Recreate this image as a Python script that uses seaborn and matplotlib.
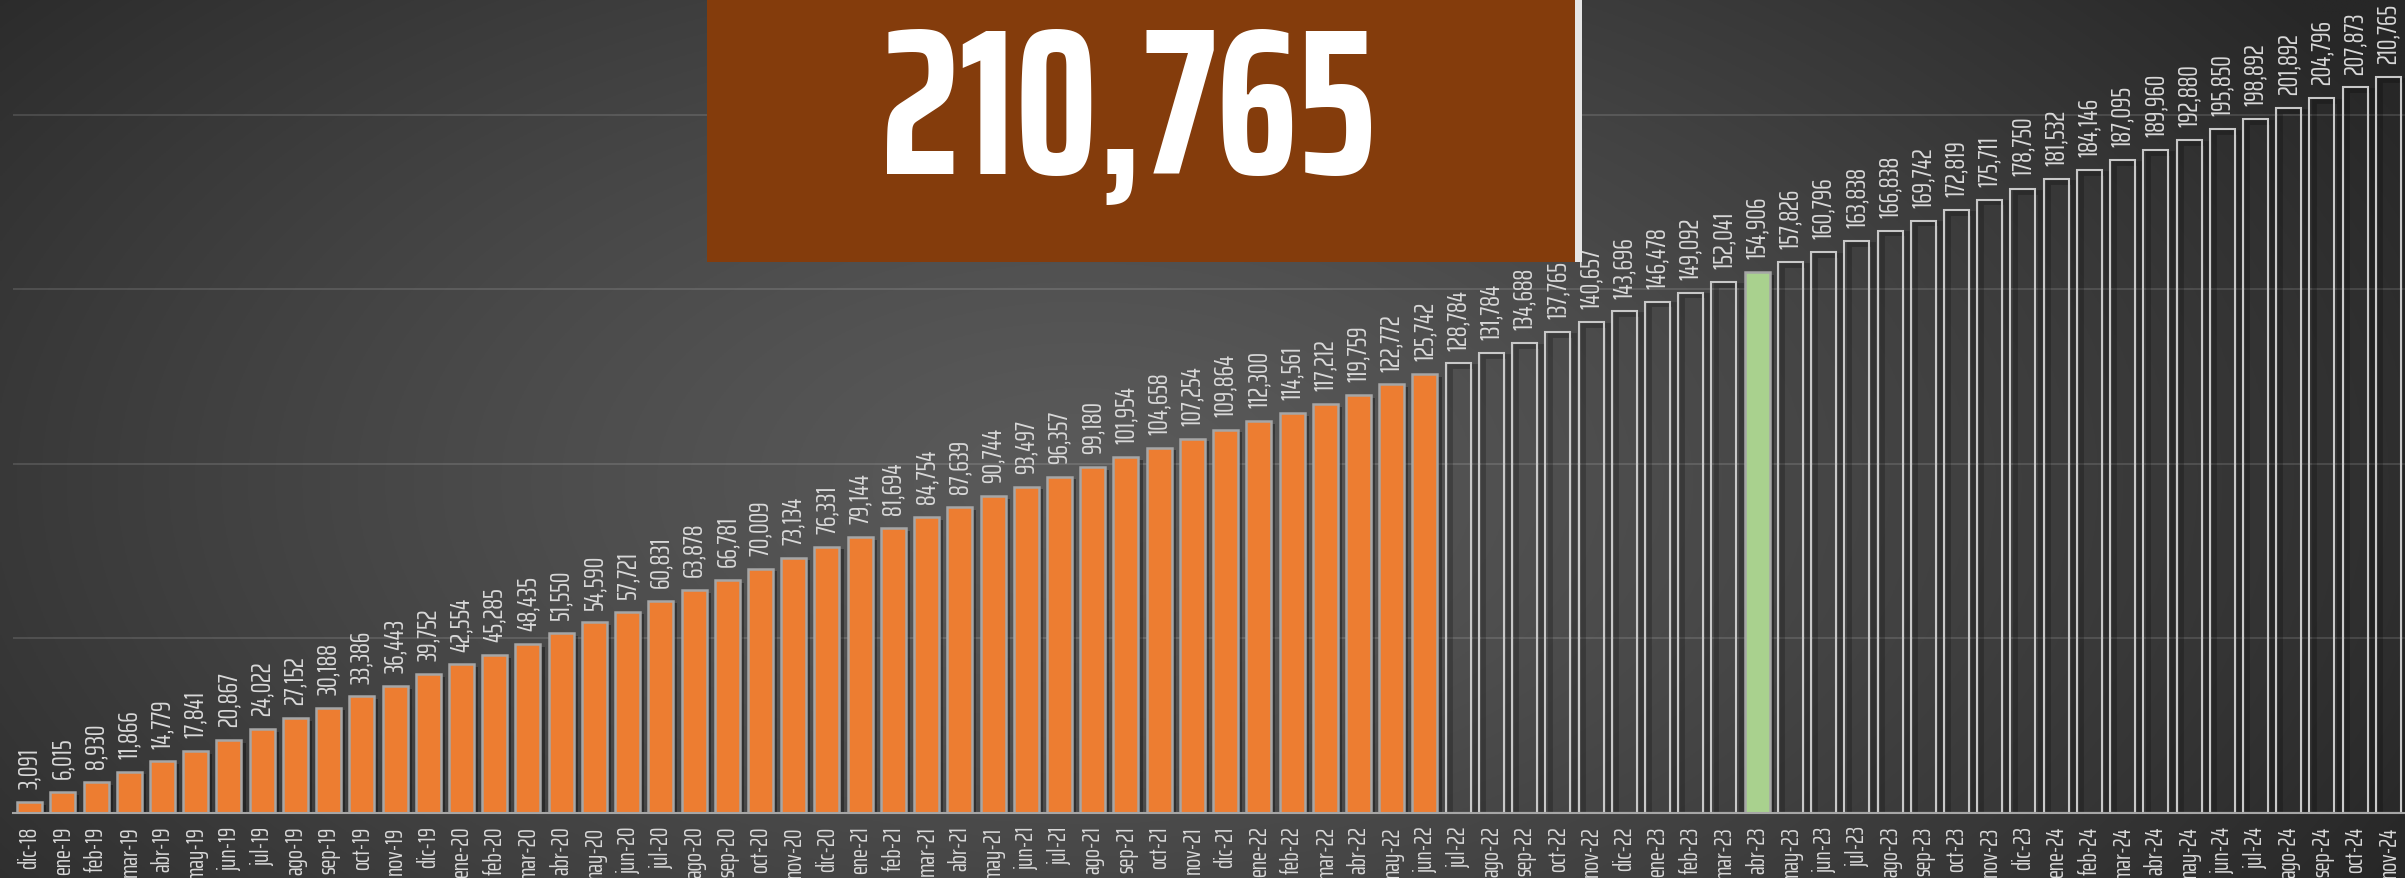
import numpy as np
import pandas as pd
import matplotlib
matplotlib.use('Agg')
import matplotlib.pyplot as plt
import matplotlib.patheffects as pe
from matplotlib.patches import Rectangle
from matplotlib import font_manager
from matplotlib.font_manager import FontProperties
from matplotlib.textpath import TextPath
import seaborn as sns

meses = ['dic-18',
         'ene-19', 'feb-19', 'mar-19', 'abr-19', 'may-19', 'jun-19', 'jul-19', 'ago-19', 'sep-19', 'oct-19', 'nov-19', 'dic-19',
         'ene-20', 'feb-20', 'mar-20', 'abr-20', 'may-20', 'jun-20', 'jul-20', 'ago-20', 'sep-20', 'oct-20', 'nov-20', 'dic-20',
         'ene-21', 'feb-21', 'mar-21', 'abr-21', 'may-21', 'jun-21', 'jul-21', 'ago-21', 'sep-21', 'oct-21', 'nov-21', 'dic-21',
         'ene-22', 'feb-22', 'mar-22', 'abr-22', 'may-22', 'jun-22', 'jul-22', 'ago-22', 'sep-22', 'oct-22', 'nov-22', 'dic-22',
         'ene-23', 'feb-23', 'mar-23', 'abr-23', 'may-23', 'jun-23', 'jul-23', 'ago-23', 'sep-23', 'oct-23', 'nov-23', 'dic-23',
         'ene-24', 'feb-24', 'mar-24', 'abr-24', 'may-24', 'jun-24', 'jul-24', 'ago-24', 'sep-24', 'oct-24', 'nov-24']

valores = [3091,
           6015, 8930, 11866, 14779, 17841, 20867, 24022, 27152, 30188, 33386, 36443, 39752,
           42554, 45285, 48435, 51550, 54590, 57721, 60831, 63878, 66781, 70009, 73134, 76331,
           79144, 81694, 84754, 87639, 90744, 93497, 96357, 99180, 101954, 104658, 107254, 109864,
           112300, 114561, 117212, 119759, 122772, 125742, 128784, 131784, 134688, 137765, 140657, 143696,
           146478, 149092, 152041, 154906, 157826, 160796, 163838, 166838, 169742, 172819, 175711, 178750,
           181532, 184146, 187095, 189960, 192880, 195850, 198892, 201892, 204796, 207873, 210765]

# real = barras llenas, proy = solo contorno, actual = barra verde
estado = ['real'] * 43 + ['proy'] * 9 + ['actual'] + ['proy'] * 19

total = '210,765'

colores_estado = {'real': '#ED7D31', 'proy': '#4A4A4A', 'actual': '#A9D18E'}

df = pd.DataFrame({'mes': meses, 'valor': valores, 'estado': estado})

sns.set_style('dark')

# fuente estrecha parecida a la del original
disponibles = {f.name for f in font_manager.fontManager.ttflist}
fuente = 'DejaVu Sans'
for nombre in ['Saira Extra Condensed', 'Saira ExtraCondensed', 'Barlow Condensed',
               'Archivo Narrow', 'Liberation Sans Narrow']:
    if nombre in disponibles:
        fuente = nombre
        break
plt.rcParams['font.family'] = [fuente, 'DejaVu Sans']

W, H = 2405, 879
DPI = 100


def tam_para(texto, ancho_px, alto_px, peso='normal', k=0.7):
    # tamaño en puntos: mezcla entre ajustar el largo y la altura de las cifras
    fp = FontProperties(family=fuente, weight=peso)
    w100 = TextPath((0, 0), texto, size=100, prop=fp).get_extents().width
    h100 = TextPath((0, 0), '0', size=100, prop=fp).get_extents().height
    por_ancho = ancho_px * 100 * 72 / (w100 * DPI)
    por_alto = alto_px * 100 * 72 / (h100 * DPI)
    return por_ancho ** k * por_alto ** (1 - k)


tam_valor = tam_para('154,906', 52, 17) * 1.15
tam_mes = tam_para('ene-19', 45, 15) * 1.06
tam_total = tam_para(total, 468, 151, 'bold', 0.5)

fig = plt.figure(figsize=(W / DPI, H / DPI), dpi=DPI)

# fondo con degradado radial
bg = fig.add_axes([0, 0, 1, 1], zorder=-5)
yy, xx = np.mgrid[0:1:400j, 0:1:1000j]
d = np.sqrt(((xx - 0.45) / 0.62) ** 2 + ((yy - 0.55) / 0.95) ** 2)
d = np.clip(d, 0, 1) ** 1.3
gris = (0x5A + (0x27 - 0x5A) * d) / 255
bg.imshow(np.dstack([gris, gris, gris]), aspect='auto', extent=[0, 1, 1, 0])
bg.set_axis_off()

ax = fig.add_axes([13 / W, 65 / H, 1 - 13 / W, 814 / H])
ax.set_facecolor('none')

sns.barplot(data=df, x='mes', y='valor', hue='mes', palette=[colores_estado[e] for e in estado],
            legend=False, width=0.75, saturation=1, edgecolor='#A6A6A6', linewidth=1.8, ax=ax)

for barra, e in zip(ax.patches, estado):
    if e == 'proy':
        barra.set_facecolor('none')
        barra.set_edgecolor('#C8C8C8')
        barra.set_linewidth(1.5)
        barra.set_path_effects([pe.Stroke(offset=(3, -2), linewidth=3.5, foreground='black', alpha=0.22),
                                pe.Normal()])
    else:
        barra.set_path_effects([pe.SimplePatchShadow(offset=(3, -2), shadow_rgbFace='black', alpha=0.35),
                                pe.Normal()])

for i, v in enumerate(valores):
    ax.annotate(f'{v:,}', (i, v), xytext=(0, 10), textcoords='offset points',
                rotation=90, ha='center', va='bottom', fontsize=tam_valor, color='#D9D9D9')

ax.set_xlim(-0.5, len(meses) - 0.5)
ax.set_ylim(0, 233200)
ax.set_yticks([50000, 100000, 150000, 200000])
ax.set_yticklabels([])
ax.tick_params(axis='y', length=0)
ax.grid(axis='y', color='white', alpha=0.12, linewidth=1.5)
ax.grid(axis='x', visible=False)
ax.set_axisbelow(True)

ax.set_xticks(range(len(meses)))
ax.set_xticklabels(meses, rotation=90, fontsize=tam_mes, color='#D9D9D9')
ax.set_xticks(np.arange(0.5, len(meses) - 0.5, 1), minor=True)
ax.tick_params(axis='x', which='major', length=0, pad=9)
ax.tick_params(axis='x', which='minor', length=6, width=1.2, color='#A6A6A6')
ax.set_xlabel('')
ax.set_ylabel('')

for s in ['top', 'left', 'right']:
    ax.spines[s].set_visible(False)
ax.spines['bottom'].set_color('#A6A6A6')
ax.spines['bottom'].set_linewidth(1.5)

# recuadro del total
fig.add_artist(Rectangle((1575 / W, 1 - 263 / H), 7 / W, 263 / H, transform=fig.transFigure,
                         facecolor='#E6E6E6', edgecolor='none', zorder=10))
fig.add_artist(Rectangle((707 / W, 1 - 263 / H), (1575 - 707) / W, 263 / H, transform=fig.transFigure,
                         facecolor='#843C0C', edgecolor='none', zorder=11))
fig.text(1128 / W, 1 - 174 / H, total, ha='center', va='baseline', fontsize=tam_total,
         fontweight='bold', color='white', zorder=12)

fig.savefig('out.png', dpi=DPI)
